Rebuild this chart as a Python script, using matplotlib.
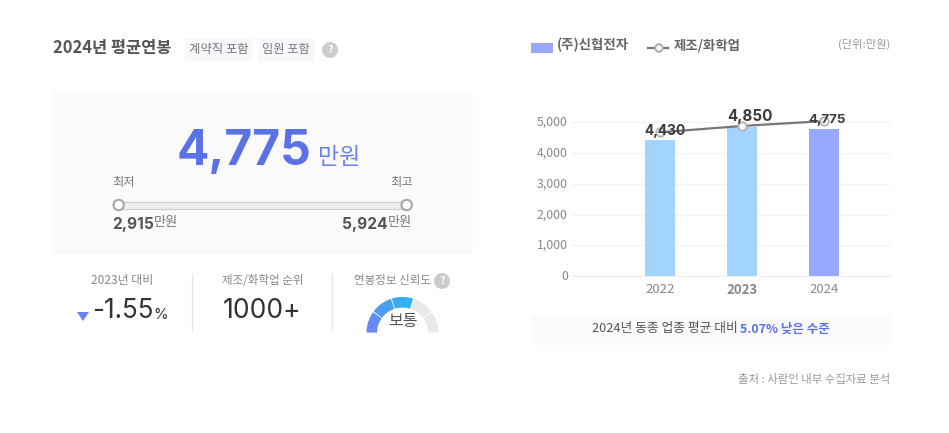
import numpy as np
import matplotlib
matplotlib.use('Agg')
import matplotlib.pyplot as plt
from matplotlib.patches import Rectangle, Circle, Wedge, Polygon
from matplotlib.colors import to_rgb
from matplotlib.transforms import ScaledTranslation

W, H = 949, 433
KR = ['Noto Sans CJK KR', 'DejaVu Sans']
LATIN = ['Inter', 'Noto Sans CJK KR']
plt.rcParams['font.family'] = KR

# chart data
years = ['2022', '2023', '2024']
company = [4430, 4850, 4775]
industry = [4675, 4880, 5040]
y_ticks = [0, 1000, 2000, 3000, 4000, 5000]
bar_colors = ['#a3d3ff', '#a3d3ff', '#98a8ff']

# summary numbers
average = '4,775'
lowest = '2,915'
highest = '5,924'
change = '-1.55'
rank = '1000+'
gap = '5.07% 낮은 수준'

BLUE = '#5a72e4'
GREY = '#888888'
DARK = '#555555'


def px(size):
    # font size given in pixels
    return size * 72 / 100


fig = plt.figure(figsize=(W / 100, H / 100), dpi=100, facecolor='white')

# overlay in pixel coordinates for the text and boxes
bg = fig.add_axes([0, 0, 1, 1])
bg.set_xlim(0, W)
bg.set_ylim(H, 0)
bg.axis('off')


def label(x, y, s, size, color=DARK, ha='left', weight='normal', family=KR):
    return bg.text(x, y + 0.8, s, fontsize=px(size), color=color, ha=ha, va='center',
                   fontweight=weight, family=family)


def box(x0, y0, x1, y1, color):
    bg.add_patch(Rectangle((x0, y0), x1 - x0, y1 - y0, facecolor=color, edgecolor='none'))


def help_icon(x, y):
    bg.add_patch(Circle((x, y), 8, facecolor='#cccccc', edgecolor='none'))
    label(x, y - 0.8, '?', 11, color='white', ha='center', weight='bold')


# title row
label(53, 47.5, '2024년 평균연봉', 16.5, weight='bold')
box(185, 38, 252, 61, '#f7f8fc')
box(258, 38, 314, 61, '#f7f8fc')
label(218.5, 48.5, '계약직 포함', 12.4, color='#777777', ha='center')
label(286, 48.5, '임원 포함', 12.2, color='#777777', ha='center')
help_icon(330, 50)

# main panel
box(53, 91, 473, 254, '#fafafa')
label(177, 151, average, 48, color=BLUE, weight='bold', family=LATIN)
label(318, 156.5, '만원', 23, color='#6f83ee')
label(112.5, 181.5, '최저', 12.3, color='#777777')
label(412.5, 181.5, '최고', 12.3, color='#777777', ha='right')

bg.add_patch(Rectangle((118, 201.5), 289, 7, facecolor='#efefef', edgecolor='#cfcfcf', lw=0.9))
for cx in [118.7, 406.7]:
    bg.add_patch(Circle((cx, 205), 5.2, facecolor='white', edgecolor='#a8a8a8', lw=1.5, zorder=3))

label(112, 224, lowest, 15.5, weight='bold', family=LATIN)
label(154, 222, '만원', 13.2, color='#777777')
label(388, 224, highest, 15.5, weight='bold', ha='right', family=LATIN)
label(412.5, 222, '만원', 13.2, color='#777777', ha='right')

# bottom stats
label(122.5, 279.5, '2023년 대비', 12, color=GREY, ha='center')
bg.add_patch(Polygon([(77, 312), (89, 312), (83, 321)], facecolor='#6f83f0', edgecolor='none'))
label(92, 310.5, change, 26, color='#333333', family=LATIN)
label(153.5, 314.5, '%', 15, color='#333333', family=LATIN)

bg.plot([192.5, 192.5], [274, 330], color='#e6e6e6', lw=1)
label(262.5, 279.5, '제조/화학업 순위', 11.5, color=GREY, ha='center')
label(262, 310.5, rank, 26.5, color='#333333', ha='center', family=LATIN)
bg.plot([332.5, 332.5], [274, 330], color='#e6e6e6', lw=1)

label(392.5, 279.5, '연봉정보 신뢰도', 11.5, color=GREY, ha='center')
help_icon(442, 281)

# gauge: y axis of the overlay points down, so angles run from 180 to 360 over the top
cx, cy, r_out, r_w = 402.5, 333, 36, 10.5
c0, c1 = np.array(to_rgb('#6a84f6')), np.array(to_rgb('#27b8f0'))
for i in range(5):
    start = 180 + 36 * i
    if i < 3:
        for j in range(6):
            t = (i + j / 6) / 3
            a = start + 0.8 if j == 0 else start + 6 * j
            # each step runs a little under the next one to hide the seam
            b = start + 35.2 if j == 5 else start + 6 * (j + 1) + 1
            bg.add_patch(Wedge((cx, cy), r_out, a, b, width=r_w,
                               facecolor=c0 + (c1 - c0) * t, edgecolor='none'))
    else:
        bg.add_patch(Wedge((cx, cy), r_out, start + 0.8, start + 35.2, width=r_w,
                           facecolor='#e9e9e9', edgecolor='none'))
label(402.5, 320.5, '보통', 16, color=DARK, ha='center')

# legend
box(531, 43, 553, 53, '#98a8ff')
label(557, 44.5, '(주)신협전자', 13.4, color='#666666', weight='bold')
bg.plot([648, 668], [48, 48], color='#777777', lw=1.6)
bg.add_patch(Circle((659, 48), 3.8, facecolor='white', edgecolor='#aaaaaa', lw=1.4, zorder=3))
label(674, 44.5, '제조/화학업', 13.4, color='#666666', weight='bold')
label(890.5, 43.5, '(단위:만원)', 11.3, color='#999999', ha='right')

# note and source
box(531, 315, 891, 345, '#fafafa')
label(592, 328, '2024년 동종 업종 평균 대비', 12.8, color='#555555')
label(740, 328, gap, 12.5, color=BLUE, weight='bold')
label(890, 378.5, '출처 : 사람인 내부 수집자료 분석', 11.4, color='#999999', ha='right')

# bar chart, top of the axes sits at 110px and the zero line at 276px
ax = fig.add_axes([572 / W, 1 - 276 / H, (891 - 572) / W, (276 - 110) / H])
ax.patch.set_alpha(0)
x = np.arange(len(years))
ax.bar(x, company, width=30 / 82, color=bar_colors, zorder=2)
ax.plot(x, industry, color='#777777', lw=1.6, zorder=3, marker='o', ms=6,
        mfc='white', mec='#b5b5b5', mew=1.4)
ax.set_xlim(-88 / 82, 2 + 67 / 82)
ax.set_ylim(0, 166 / 30.74 * 1000)

ax.set_yticks(y_ticks)
ax.set_yticklabels([f'{v:,}' for v in y_ticks], fontsize=px(12.3), color=GREY, family=KR)
ax.set_xticks(x)
ax.set_xticklabels(years, fontsize=px(13.2), color=GREY, family=KR)
ax.get_xticklabels()[1].set_fontweight('bold')
ax.tick_params(axis='both', length=0)
ax.tick_params(axis='x', pad=5)
ax.tick_params(axis='y', pad=3)
# tick labels sit about a pixel higher than matplotlib centres them
for t in ax.get_yticklabels():
    t.set_transform(t.get_transform() + ScaledTranslation(0, 1.2 / 100, fig.dpi_scale_trans))
ax.grid(axis='y', color='#f3f3f3', lw=1, zorder=0)
ax.set_axisbelow(True)
for side in ['top', 'right', 'left']:
    ax.spines[side].set_visible(False)
ax.spines['bottom'].set_color('#eeeeee')

# value labels sit above the bars, pushed a bit to the right like the original
label_sizes = [13.8, 15.2, 13.3]
label_dx = [5, 7.5, 3.5]
label_dy = [9, 10, 9.5]
for i, v in enumerate(company):
    ax.annotate(f'{v:,}', (x[i], v), xytext=(px(label_dx[i]), px(label_dy[i])),
                textcoords='offset points', ha='center', va='center',
                fontsize=px(label_sizes[i]), fontweight='bold',
                color='#3c3c3c', family=LATIN, zorder=5, annotation_clip=False)

fig.savefig('out.png', dpi=100)
